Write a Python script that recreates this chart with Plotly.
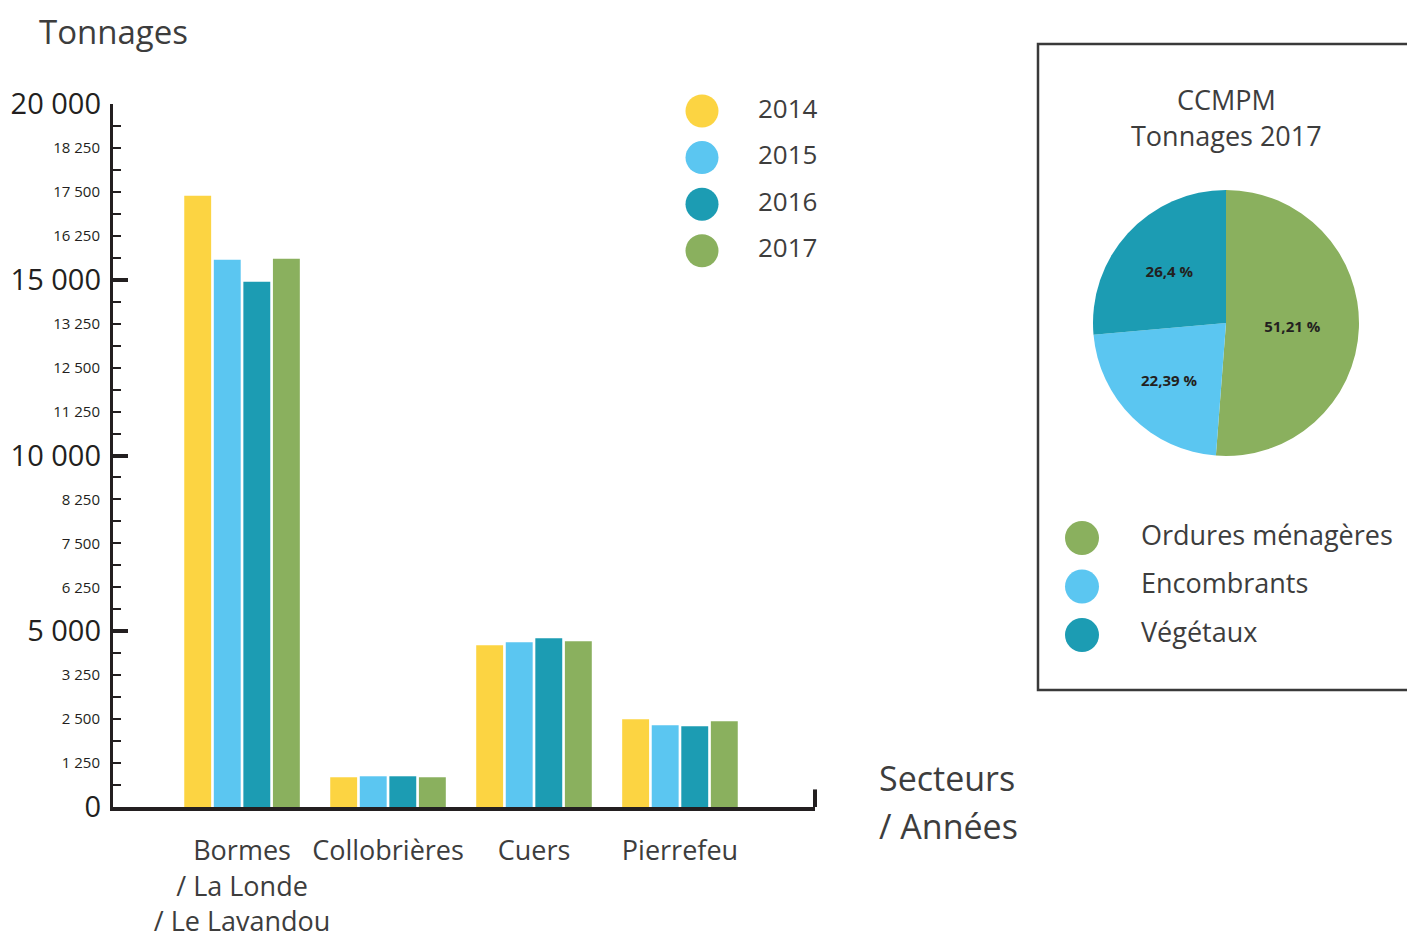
import plotly.graph_objects as go

# ---------------- data ----------------
secteurs = ["Bormes<br>/ La Londe<br>/ Le Lavandou", "Collobrières", "Cuers", "Pierrefeu"]
annees = ["2014", "2015", "2016", "2017"]
t2014 = [17390, 846, 4600, 2497]
t2015 = [15570, 874, 4690, 2326]
t2016 = [14940, 874, 4800, 2298]
t2017 = [15595, 846, 4718, 2440]
couleurs_annees = ["#FCD442", "#5BC6F1", "#1C9CB3", "#8AB05E"]

major_tick_vals = [0, 5000, 10000, 15000, 20000]
major_tick_text = ["0", "5 000", "10 000", "15 000", "20 000"]
small_tick_vals = [1250, 2500, 3750, 6250, 7500, 8750, 11250, 12500, 13750, 16250, 17500, 18750]
small_tick_text = ["1 250", "2 500", "3 250", "6 250", "7 500", "8 250",
                   "11 250", "12 500", "13 250", "16 250", "17 500", "18 250"]

pie_labels = ["Ordures ménagères", "Encombrants", "Végétaux"]
pie_values = [51.21, 22.39, 26.4]
pie_text = ["51,21 %", "22,39 %", "26,4 %"]
pie_colors = ["#8AB05E", "#5BC6F1", "#1C9CB3"]

FONT = "Open Sans"
DARK = "#231f20"
GREY = "#3d3d3d"

W, H = 1407, 940
ML, MR, MT, MB = 113, 0, 104, 133
PW, PH = W - ML - MR, H - MT - MB


def px_x(p):
    return (p - ML) / PW


def px_y(p):
    return (H - MB - p) / PH


fig = go.Figure()

series = [t2014, t2015, t2016, t2017]
for name, vals, col in zip(annees, series, couleurs_annees):
    fig.add_trace(go.Bar(x=secteurs, y=vals, name=name, marker=dict(color=col, line=dict(width=0)),
                         showlegend=False))

# dummy trace to realise the overlaying axis with major ticks
fig.add_trace(go.Scatter(x=[secteurs[0]], y=[None], yaxis="y2", showlegend=False, hoverinfo="skip"))

# custom year legend
yrs_idx = list(range(len(annees)))
fig.add_trace(go.Scatter(x=[0] * len(annees), y=yrs_idx, mode="markers",
                         marker=dict(size=33, color=couleurs_annees), xaxis="x3", yaxis="y3",
                         showlegend=False, hoverinfo="skip", cliponaxis=False))
fig.add_trace(go.Scatter(x=[1] * len(annees), y=yrs_idx, mode="text", text=annees,
                         textposition="middle right", textfont=dict(family=FONT, size=26, color=GREY),
                         xaxis="x3", yaxis="y3", showlegend=False, hoverinfo="skip", cliponaxis=False))

# pie
fig.add_trace(go.Pie(labels=pie_labels, values=pie_values, text=pie_text, textinfo="text",
                     texttemplate="<b>%{text}</b>", sort=False, direction="clockwise", rotation=0,
                     marker=dict(colors=pie_colors, line=dict(width=0)),
                     textfont=dict(family=FONT, size=15, color=DARK),
                     insidetextorientation="horizontal", showlegend=False,
                     domain=dict(x=[px_x(1093), px_x(1359)], y=[px_y(456), px_y(190)])))

# pie legend
pie_idx = list(range(len(pie_labels)))
fig.add_trace(go.Scatter(x=[0] * len(pie_labels), y=pie_idx, mode="markers",
                         marker=dict(size=34, color=pie_colors), xaxis="x4", yaxis="y4",
                         showlegend=False, hoverinfo="skip", cliponaxis=False))
fig.add_trace(go.Scatter(x=[1] * len(pie_labels), y=pie_idx, mode="text", text=pie_labels,
                         textposition="middle right", textfont=dict(family=FONT, size=27, color=GREY),
                         xaxis="x4", yaxis="y4", showlegend=False, hoverinfo="skip", cliponaxis=False))

hidden = dict(visible=False, showgrid=False, zeroline=False, fixedrange=True, automargin=False)

fig.update_layout(
    width=W, height=H,
    margin=dict(l=ML, r=MR, t=MT, b=MB),
    paper_bgcolor="white", plot_bgcolor="white",
    barmode="group", bargap=0.19, bargroupgap=0.09,
    font=dict(family=FONT, color=GREY),
    xaxis=dict(domain=[0, px_x(815)], range=[-0.884, 3.925], type="category", automargin=False,
               tickangle=0,
               showline=True, linewidth=4, linecolor=DARK, ticks="", showgrid=False, zeroline=False,
               tickfont=dict(family=FONT, size=27, color=GREY), ticklabelstandoff=17),
    yaxis=dict(range=[0, 20000], showline=True, linewidth=3, linecolor=DARK, showgrid=False,
               automargin=False,
               zeroline=False, tickmode="array", tickvals=small_tick_vals, ticktext=small_tick_text,
               ticks="inside", ticklen=8, tickwidth=2, tickcolor=DARK,
               tickfont=dict(family=FONT, size=15, color=DARK), ticklabelstandoff=7,
               minor=dict(dtick=625, tick0=0, ticks="inside", ticklen=8, tickwidth=2,
                          tickcolor=DARK, showgrid=False)),
    yaxis2=dict(range=[0, 20000], overlaying="y", anchor="x", side="left", showline=False,
                automargin=False,
                showgrid=False, zeroline=False, tickmode="array", tickvals=major_tick_vals,
                ticktext=major_tick_text, ticks="inside", ticklen=15, tickwidth=4, tickcolor=DARK,
                tickfont=dict(family=FONT, size=29, color=DARK), ticklabelstandoff=11),
    xaxis3=dict(domain=[px_x(680), px_x(900)], range=[-22 / 56, 198 / 56], anchor="y3", **hidden),
    yaxis3=dict(domain=[px_y(274), px_y(104)], range=[3.5, -0.15], anchor="x3", **hidden),
    xaxis4=dict(domain=[px_x(1050), px_x(1400)], range=[-32 / 59, 318 / 59], anchor="y4", **hidden),
    yaxis4=dict(domain=[px_y(665), px_y(510)], range=[(665 - 538) / 48.5, (510 - 538) / 48.5],
                anchor="x4", **hidden),
    shapes=[
        dict(type="line", xref="x domain", yref="y", x0=1, x1=1, y0=0, y1=500,
             line=dict(color=DARK, width=4)),
        dict(type="rect", xref="paper", yref="paper", x0=px_x(1038), x1=px_x(1420),
             y0=px_y(690), y1=px_y(44), line=dict(color="#3a3a3a", width=2.5)),
    ],
    annotations=[
        dict(text="Tonnages", xref="paper", yref="paper", x=px_x(37), y=px_y(31), xanchor="left",
             yanchor="middle", showarrow=False, font=dict(family=FONT, size=33, color=GREY)),
        dict(text="Secteurs", xref="paper", yref="paper", x=px_x(877), y=px_y(778), xanchor="left",
             yanchor="middle", showarrow=False, font=dict(family=FONT, size=34, color=GREY)),
        dict(text="/ Années", xref="paper", yref="paper", x=px_x(877), y=px_y(826), xanchor="left",
             yanchor="middle", showarrow=False, font=dict(family=FONT, size=34, color=GREY)),
        dict(text="CCMPM", xref="paper", yref="paper", x=px_x(1226), y=px_y(99), xanchor="center",
             yanchor="middle", showarrow=False, font=dict(family=FONT, size=27, color=GREY)),
        dict(text="Tonnages 2017", xref="paper", yref="paper", x=px_x(1226), y=px_y(136),
             xanchor="center", yanchor="middle", showarrow=False,
             font=dict(family=FONT, size=27, color=GREY)),
    ],
)

fig.write_html("out.html", config=dict(displayModeBar=False),
               post_script="document.body.style.margin='0';")
